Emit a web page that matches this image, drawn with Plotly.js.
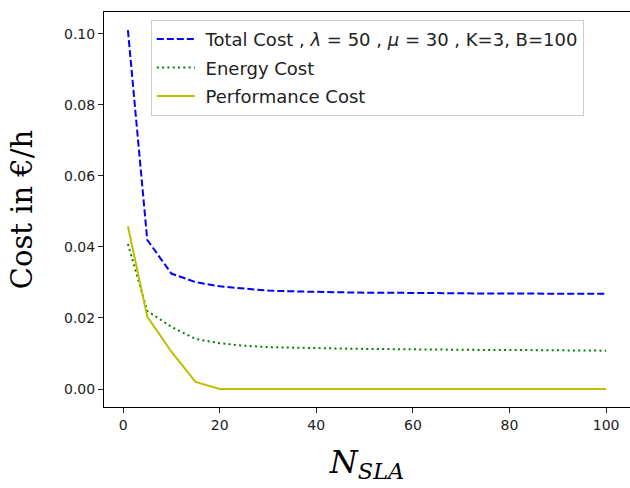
<!DOCTYPE html>
<html>
<head>
<meta charset="utf-8">
<script src="https://cdn.plot.ly/plotly-3.0.1.min.js"></script>
<style>html,body{margin:0;padding:0;background:#fff;}#chart{width:630px;height:488px;}</style>
</head>
<body>
<div id="chart"></div>
<script>
const nSla = [1,5,10,15,20,25,30,35,40,45,50,55,60,65,70,75,80,85,90,95,100];
const totalCost = [0.101,0.0420,0.0325,0.0301,0.0289,0.0282,0.0277,0.0275,0.0273,0.0272,0.0271,0.0271,0.0270,0.0270,0.0269,0.0269,0.0269,0.0268,0.0268,0.0268,0.0268];
const energyCost = [0.0408,0.0220,0.0175,0.0141,0.0129,0.0122,0.0118,0.0116,0.0115,0.0114,0.0113,0.0112,0.0112,0.0111,0.0111,0.0110,0.0110,0.0109,0.0109,0.0108,0.0108];
const perfCost = [0.0458,0.0204,0.0105,0.0020,0,0,0,0,0,0,0,0,0,0,0,0,0,0,0,0,0];
const names = ['Total Cost , <i>λ</i> = 50 , <i>μ</i> = 30 , K=3, B=100','Energy Cost','Performance Cost'];

const traces = [
  {x:nSla, y:totalCost, name:'\u00a0'+names[0], legendgroup:'a', mode:'lines', line:{color:'#0000ff', width:2, dash:'7px,3px'}},
  {x:nSla, y:energyCost, name:'\u00a0'+names[1], legendgroup:'b', mode:'lines', line:{color:'#008000', width:2, dash:'2px,3.3px'}},
  {x:nSla, y:perfCost, name:'\u00a0'+names[2], legendgroup:'c', mode:'lines', line:{color:'#bfbf00', width:2}}
];

const axisCommon = {
  showgrid:false, zeroline:false, showline:true, mirror:true, linecolor:'#000', linewidth:1,
  ticks:'outside', ticklen:5, tickwidth:1, tickcolor:'#222',
  tickfont:{family:'DejaVu Sans', size:14, color:'#222'}
};

const layout = {
  width:630, height:488,
  margin:{l:104, r:0, t:12, b:81},
  paper_bgcolor:'#fff', plot_bgcolor:'#fff',
  showlegend:true,
  xaxis: Object.assign({}, axisCommon, {
    range:[-3.95,104.95], tickvals:[0,20,40,60,80,100], ticktext:['0','20','40','60','80','100'],
    title:{text:'\u00a0\u00a0\u00a0\u00a0<i>N</i><sub><i>SLA</i></sub>', font:{family:'DejaVu Serif', size:32, color:'#000'}, standoff:18}
  }),
  yaxis: Object.assign({}, axisCommon, {
    range:[-0.00505,0.1061], tickvals:[0,0.02,0.04,0.06,0.08,0.10], ticktext:['0.00','0.02','0.04','0.06','0.08','0.10'],
    title:{text:'Cost in €/h', font:{family:'DejaVu Serif', size:29, color:'#000'}, standoff:22}
  }),
  legend:{
    x:0.089, y:0.98, xanchor:'left', yanchor:'top',
    bgcolor:'rgba(255,255,255,0.8)', bordercolor:'#ccc', borderwidth:1,
    font:{family:'DejaVu Sans', size:18, color:'#222'},
    itemwidth:38, tracegroupgap:2
  }
};

Plotly.newPlot('chart', traces, layout, {displayModeBar:false, staticPlot:true});
</script>
</body>
</html>
